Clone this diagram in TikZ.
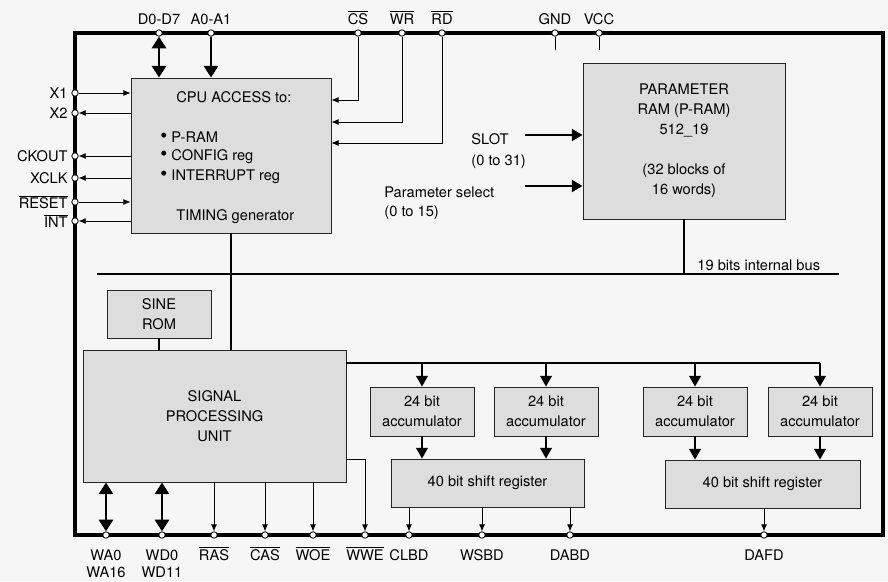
\documentclass[tikz,border=0pt]{standalone}
\usepackage{fontspec}
\setmainfont{TeX Gyre Heros}
\usetikzlibrary{arrows.meta,positioning}

\tikzset{
  blk/.style={draw=black!85, fill=gray!27, line width=0.8pt},
  pin/.style={circle, draw, fill=white, line width=0.7pt, inner sep=0pt, minimum size=5.5pt},
  lbl/.style={font=\fontsize{12.5}{17}\selectfont, inner sep=1pt},
  sig/.style={line width=0.7pt, -{Latex[length=6pt,width=5pt]}},
  fed/.style={line width=1pt, -{Triangle[length=9pt,width=10pt]}},
  fat/.style={line width=2.4pt, -{Triangle[length=10pt,width=12pt]}},
  fatboth/.style={line width=2.4pt, {Triangle[length=10pt,width=12pt]}-{Triangle[length=10pt,width=12pt]}},
}
\newcommand{\bigdot}{{\fontsize{17}{17}\selectfont\textbullet}}

\begin{document}
\begin{tikzpicture}[x=0.03cm, y=-0.03cm]
\useasboundingbox[fill=gray!7] (0,0) rectangle (888,581);

% outer frame
\draw[line width=3pt] (75,33) rectangle (883,535);

% blocks
\node[blk, minimum width=6cm, minimum height=4.65cm] (cpu) at (231,155.5) {};
\node[blk, lbl, align=center, minimum width=6.06cm, minimum height=4.68cm] (pram) at (684,141)
  {PARAMETER\\RAM (P-RAM)\\512\_19\\[17pt](32 blocks of\\16 words)};
\node[blk, lbl, align=center, minimum width=3.12cm, minimum height=1.44cm] (rom) at (159,314) {SINE\\ROM};
\node[blk, lbl, align=center, minimum width=7.89cm, minimum height=3.96cm] (spu) at (214.5,416)
  {SIGNAL\\PROCESSING\\UNIT};
\foreach \i/\x in {1/422,2/546,3/695,4/820}
  \node[blk, lbl, align=center, minimum width=3.12cm, minimum height=1.47cm] (acc\i) at (\x,411.5)
    {24 bit\\accumulator};
\node[blk, lbl, minimum width=5.79cm, minimum height=1.44cm] (sr1) at (487.5,483) {40 bit shift register};
\node[blk, lbl, minimum width=5.85cm, minimum height=1.44cm] (sr2) at (762.5,484) {40 bit shift register};

% cpu text
\node[lbl, anchor=west] (cpuhd) at (175,97) {CPU ACCESS to:};
\node[lbl, anchor=west] (it1) at (159,137) {\bigdot\ P-RAM};
\node[lbl, anchor=west] (it2) at (159,157) {\bigdot\ CONFIG reg};
\node[lbl, anchor=west] (it3) at (159,177) {\bigdot\ INTERRUPT reg};
\node[lbl, anchor=west] (tim) at (175,217) {TIMING generator};

% pins, top
\foreach \n/\x/\t in {pd/159/D0-D7, pa/211/A0-A1, pcs/358/$\overline{\mbox{CS}}$,
    pwr/402/$\overline{\mbox{WR}}$, prd/442/$\overline{\mbox{RD}}$, pgnd/555/GND, pvcc/599/VCC}{
  \node[pin] (\n) at (\x,33) {};
  \node[lbl, anchor=base] at (\x,24) {\t};
}
% pins, left
\foreach \n/\y/\t in {px1/93/X1, px2/113/X2, pck/156/CKOUT, pxc/178/XCLK,
    prs/202/$\overline{\mbox{RESET}}$, pint/221/$\overline{\mbox{INT}}$}{
  \node[pin] (\n) at (75,\y) {};
  \node[lbl, left=2pt of \n] {\t};
}
% pins, bottom
\foreach \n/\x/\t in {pwa/106/WA0, pwd/162/WD0, pras/214/$\overline{\mbox{RAS}}$,
    pcas/265/$\overline{\mbox{CAS}}$, pwoe/313/$\overline{\mbox{WOE}}$, pwwe/365/$\overline{\mbox{WWE}}$,
    pclbd/409/CLBD, pwsbd/482/WSBD, pdabd/570/DABD, pdafd/764/DAFD}{
  \node[pin] (\n) at (\x,535) {};
  \node[lbl, anchor=base] at (\x,560) {\t};
}
\node[lbl, anchor=base] (wa16) at (106,577) {WA16};
\node[lbl, anchor=base] (wd11) at (162,577) {WD11};

% cpu connections
\draw[fatboth] (pd) -- (pd |- cpu.north);
\draw[fat] (pa) -- (pa |- cpu.north);
\draw[sig] (pcs) |- (cpu.east |- 0,100);
\draw[sig] (pwr) |- (cpu.east |- 0,122);
\draw[sig] (prd) |- (cpu.east |- 0,143);
\draw[line width=0.7pt] (pgnd) -- ++(0,17);
\draw[line width=0.7pt] (pvcc) -- ++(0,17);
\draw[sig] (px1) -- (px1 -| cpu.west);
\draw[sig] (prs) -- (prs -| cpu.west);
\foreach \p in {px2,pck,pxc,pint}
  \draw[sig] (\p -| cpu.west) -- (\p);

% p-ram inputs
\coordinate (slot) at (525,135);
\coordinate (psel) at (525,186);
\draw[line width=1.8pt, -{Triangle[length=9pt,width=10pt]}] (slot) -- (slot -| pram.west);
\draw[line width=1.8pt, -{Triangle[length=9pt,width=10pt]}] (psel) -- (psel -| pram.west);
\node[lbl, anchor=base west] at (470,144) {SLOT};
\node[lbl, anchor=base west] at (470,165) {(0 to 31)};
\node[lbl, anchor=base west] at (383,197) {Parameter select};
\node[lbl, anchor=base west] at (383,216) {(0 to 15)};

% internal bus
\coordinate (busl) at (97,274);
\coordinate (busr) at (839,274);
\draw[line width=1.5pt] (busl) -- (busr);
\node[lbl, anchor=base west] at (696,270) {19 bits internal bus};
\draw[line width=1.2pt] (pram.south) -- (pram.south |- busl);
\draw[line width=1.2pt] (cpu.south) -- (cpu.south |- spu.north);
\draw[line width=1.2pt] (rom.south) -- (rom.south |- spu.north);

% accumulators
\draw[line width=1.2pt] (spu.east |- 0,363) -- (acc4.north |- 0,363);
\foreach \i in {1,...,4}
  \draw[fed] (acc\i.north |- 0,363) -- (acc\i.north);
\foreach \i/\s in {1/sr1,2/sr1,3/sr2,4/sr2}
  \draw[fed] (acc\i.south) -- (acc\i.south |- \s.north);

% bottom connections
\draw[fatboth] (pwa |- spu.south) -- (pwa);
\draw[fatboth] (pwd |- spu.south) -- (pwd);
\foreach \p in {pras,pcas,pwoe}
  \draw[sig] (\p |- spu.south) -- (\p);
\draw[sig] (spu.east |- 0,459) -| (pwwe);
\foreach \p in {pclbd,pwsbd,pdabd}
  \draw[sig] (\p |- sr1.south) -- (\p);
\draw[sig] (pdafd |- sr2.south) -- (pdafd);
\end{tikzpicture}
\end{document}
